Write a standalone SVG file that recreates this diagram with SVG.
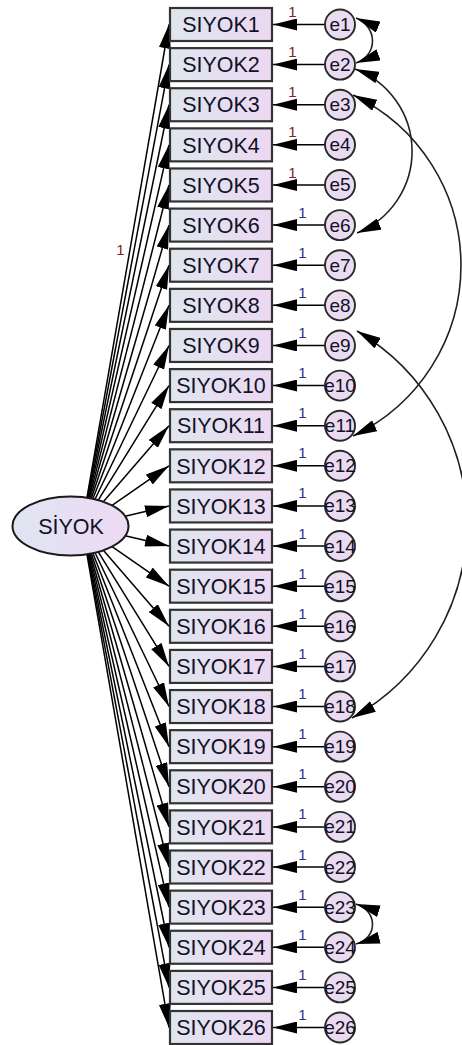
<svg xmlns="http://www.w3.org/2000/svg" width="462" height="1045" viewBox="0 0 462 1045">
<style>
.box rect{fill:url(#gb);stroke:#333;stroke-width:2.2}
.box text{font-family:"Liberation Sans",Arial,sans-serif;font-size:21.5px;fill:#111128;text-anchor:middle}
.err circle{fill:#ebdbf1;stroke:#2a2a2a;stroke-width:1.9}
.err text{font-family:"Liberation Sans",Arial,sans-serif;font-size:19px;fill:#111128;text-anchor:middle}
.ld{stroke:#000;stroke-width:1.5;fill:none;marker-end:url(#ah)}
.ea{stroke:#000;stroke-width:1.5;fill:none;marker-end:url(#ah)}
.cov{stroke:#222;stroke-width:1.6;fill:none;marker-start:url(#ah);marker-end:url(#ah)}
.one{font-family:"Liberation Sans",Arial,sans-serif;font-size:15px;text-anchor:middle}
.r{fill:#7a2424}.b{fill:#26308a}
</style>
<defs>
<linearGradient id="gb" x1="0" y1="0" x2="1" y2="0"><stop offset="0" stop-color="#dfe6ee"/><stop offset="1" stop-color="#ecd8f2"/></linearGradient>
<linearGradient id="ge" x1="0" y1="0" x2="1" y2="0"><stop offset="0" stop-color="#dfe5f3"/><stop offset="1" stop-color="#eddaf3"/></linearGradient>
<marker id="ah" markerUnits="userSpaceOnUse" markerWidth="24" markerHeight="12" refX="24" refY="6" orient="auto-start-reverse" viewBox="0 0 24 12"><path d="M0,0 L24,6 L0,12 Z" fill="#000"/></marker>
</defs>
<g id="connectors">
<path class="ld" d="M86.96,497.71 L169,24.5"/>
<path class="ld" d="M87.38,497.78 L169,64.62"/>
<path class="ld" d="M87.88,497.86 L169,104.74"/>
<path class="ld" d="M88.48,497.95 L169,144.86"/>
<path class="ld" d="M89.21,498.08 L169,184.98"/>
<path class="ld" d="M90.12,498.24 L169,225.1"/>
<path class="ld" d="M91.29,498.46 L169,265.22"/>
<path class="ld" d="M92.86,498.78 L169,305.34"/>
<path class="ld" d="M95.03,499.27 L169,345.46"/>
<path class="ld" d="M98.24,500.09 L169,385.58"/>
<path class="ld" d="M103.34,501.68 L169,425.7"/>
<path class="ld" d="M112.08,505.43 L169,465.82"/>
<path class="ld" d="M125.18,516.16 L169,505.94"/>
<path class="ld" d="M125.18,535.84 L169,546.06"/>
<path class="ld" d="M112.08,546.57 L169,586.18"/>
<path class="ld" d="M103.34,550.32 L169,626.3"/>
<path class="ld" d="M98.24,551.91 L169,666.42"/>
<path class="ld" d="M95.03,552.73 L169,706.54"/>
<path class="ld" d="M92.86,553.22 L169,746.66"/>
<path class="ld" d="M91.29,553.54 L169,786.78"/>
<path class="ld" d="M90.12,553.76 L169,826.9"/>
<path class="ld" d="M89.21,553.92 L169,867.02"/>
<path class="ld" d="M88.48,554.05 L169,907.14"/>
<path class="ld" d="M87.88,554.14 L169,947.26"/>
<path class="ld" d="M87.38,554.22 L169,987.38"/>
<path class="ld" d="M86.96,554.29 L169,1027.5"/>
<path class="ea" d="M325,24.5 H273"/>
<path class="ea" d="M325,64.62 H273"/>
<path class="ea" d="M325,104.74 H273"/>
<path class="ea" d="M325,144.86 H273"/>
<path class="ea" d="M325,184.98 H273"/>
<path class="ea" d="M325,225.1 H273"/>
<path class="ea" d="M325,265.22 H273"/>
<path class="ea" d="M325,305.34 H273"/>
<path class="ea" d="M325,345.46 H273"/>
<path class="ea" d="M325,385.58 H273"/>
<path class="ea" d="M325,425.7 H273"/>
<path class="ea" d="M325,465.82 H273"/>
<path class="ea" d="M325,505.94 H273"/>
<path class="ea" d="M325,546.06 H273"/>
<path class="ea" d="M325,586.18 H273"/>
<path class="ea" d="M325,626.3 H273"/>
<path class="ea" d="M325,666.42 H273"/>
<path class="ea" d="M325,706.54 H273"/>
<path class="ea" d="M325,746.66 H273"/>
<path class="ea" d="M325,786.78 H273"/>
<path class="ea" d="M325,826.9 H273"/>
<path class="ea" d="M325,867.02 H273"/>
<path class="ea" d="M325,907.14 H273"/>
<path class="ea" d="M325,947.26 H273"/>
<path class="ea" d="M325,987.38 H273"/>
<path class="ea" d="M325,1027.5 H273"/>
<path class="cov" d="M356,18 C378,27 378,55 356,63"/>
<path class="cov" d="M355,69 A88,88 0 0 1 357,233"/>
<path class="cov" d="M353,95 A188.6,188.6 0 0 1 353,436"/>
<path class="cov" d="M357,331 A222.8,222.8 0 0 1 352,718"/>
<path class="cov" d="M356,904 C378,911 378,938 356,944"/>
</g>
<g id="labels">
<text class="one r" x="120.5" y="255">1</text>
<text class="one r" x="292.5" y="17">1</text>
<text class="one r" x="292.5" y="57.1">1</text>
<text class="one r" x="292.5" y="97.2">1</text>
<text class="one r" x="292.5" y="137.4">1</text>
<text class="one r" x="292.5" y="177.5">1</text>
<text class="one b" x="302.5" y="217.6">1</text>
<text class="one b" x="302.5" y="257.7">1</text>
<text class="one b" x="302.5" y="297.8">1</text>
<text class="one b" x="302.5" y="338">1</text>
<text class="one b" x="302.5" y="378.1">1</text>
<text class="one b" x="302.5" y="418.2">1</text>
<text class="one b" x="302.5" y="458.3">1</text>
<text class="one b" x="302.5" y="498.4">1</text>
<text class="one b" x="302.5" y="538.6">1</text>
<text class="one b" x="302.5" y="578.7">1</text>
<text class="one b" x="302.5" y="618.8">1</text>
<text class="one b" x="302.5" y="658.9">1</text>
<text class="one b" x="302.5" y="699">1</text>
<text class="one b" x="302.5" y="739.2">1</text>
<text class="one b" x="302.5" y="779.3">1</text>
<text class="one b" x="302.5" y="819.4">1</text>
<text class="one b" x="302.5" y="859.5">1</text>
<text class="one b" x="302.5" y="899.6">1</text>
<text class="one b" x="302.5" y="939.8">1</text>
<text class="one b" x="302.5" y="979.9">1</text>
<text class="one b" x="302.5" y="1020">1</text>
</g>
<g id="SIYOK">
<ellipse cx="70.5" cy="526" rx="58" ry="29.5" fill="url(#ge)" stroke="#1a1a1a" stroke-width="2"/>
<text x="71" y="533.7" font-family="'Liberation Sans',Arial,sans-serif" font-size="21.5" fill="#111128" text-anchor="middle">SİYOK</text>
</g>
<g id="SIYOK1" class="box" transform="translate(0,24.5)"><rect x="170" y="-16.5" width="102" height="33"/><text x="221" y="7.7">SIYOK1</text></g>
<g id="SIYOK2" class="box" transform="translate(0,64.62)"><rect x="170" y="-16.5" width="102" height="33"/><text x="221" y="7.7">SIYOK2</text></g>
<g id="SIYOK3" class="box" transform="translate(0,104.74)"><rect x="170" y="-16.5" width="102" height="33"/><text x="221" y="7.7">SIYOK3</text></g>
<g id="SIYOK4" class="box" transform="translate(0,144.86)"><rect x="170" y="-16.5" width="102" height="33"/><text x="221" y="7.7">SIYOK4</text></g>
<g id="SIYOK5" class="box" transform="translate(0,184.98)"><rect x="170" y="-16.5" width="102" height="33"/><text x="221" y="7.7">SIYOK5</text></g>
<g id="SIYOK6" class="box" transform="translate(0,225.1)"><rect x="170" y="-16.5" width="102" height="33"/><text x="221" y="7.7">SIYOK6</text></g>
<g id="SIYOK7" class="box" transform="translate(0,265.22)"><rect x="170" y="-16.5" width="102" height="33"/><text x="221" y="7.7">SIYOK7</text></g>
<g id="SIYOK8" class="box" transform="translate(0,305.34)"><rect x="170" y="-16.5" width="102" height="33"/><text x="221" y="7.7">SIYOK8</text></g>
<g id="SIYOK9" class="box" transform="translate(0,345.46)"><rect x="170" y="-16.5" width="102" height="33"/><text x="221" y="7.7">SIYOK9</text></g>
<g id="SIYOK10" class="box" transform="translate(0,385.58)"><rect x="170" y="-16.5" width="102" height="33"/><text x="221" y="7.7">SIYOK10</text></g>
<g id="SIYOK11" class="box" transform="translate(0,425.7)"><rect x="170" y="-16.5" width="102" height="33"/><text x="221" y="7.7">SIYOK11</text></g>
<g id="SIYOK12" class="box" transform="translate(0,465.82)"><rect x="170" y="-16.5" width="102" height="33"/><text x="221" y="7.7">SIYOK12</text></g>
<g id="SIYOK13" class="box" transform="translate(0,505.94)"><rect x="170" y="-16.5" width="102" height="33"/><text x="221" y="7.7">SIYOK13</text></g>
<g id="SIYOK14" class="box" transform="translate(0,546.06)"><rect x="170" y="-16.5" width="102" height="33"/><text x="221" y="7.7">SIYOK14</text></g>
<g id="SIYOK15" class="box" transform="translate(0,586.18)"><rect x="170" y="-16.5" width="102" height="33"/><text x="221" y="7.7">SIYOK15</text></g>
<g id="SIYOK16" class="box" transform="translate(0,626.3)"><rect x="170" y="-16.5" width="102" height="33"/><text x="221" y="7.7">SIYOK16</text></g>
<g id="SIYOK17" class="box" transform="translate(0,666.42)"><rect x="170" y="-16.5" width="102" height="33"/><text x="221" y="7.7">SIYOK17</text></g>
<g id="SIYOK18" class="box" transform="translate(0,706.54)"><rect x="170" y="-16.5" width="102" height="33"/><text x="221" y="7.7">SIYOK18</text></g>
<g id="SIYOK19" class="box" transform="translate(0,746.66)"><rect x="170" y="-16.5" width="102" height="33"/><text x="221" y="7.7">SIYOK19</text></g>
<g id="SIYOK20" class="box" transform="translate(0,786.78)"><rect x="170" y="-16.5" width="102" height="33"/><text x="221" y="7.7">SIYOK20</text></g>
<g id="SIYOK21" class="box" transform="translate(0,826.9)"><rect x="170" y="-16.5" width="102" height="33"/><text x="221" y="7.7">SIYOK21</text></g>
<g id="SIYOK22" class="box" transform="translate(0,867.02)"><rect x="170" y="-16.5" width="102" height="33"/><text x="221" y="7.7">SIYOK22</text></g>
<g id="SIYOK23" class="box" transform="translate(0,907.14)"><rect x="170" y="-16.5" width="102" height="33"/><text x="221" y="7.7">SIYOK23</text></g>
<g id="SIYOK24" class="box" transform="translate(0,947.26)"><rect x="170" y="-16.5" width="102" height="33"/><text x="221" y="7.7">SIYOK24</text></g>
<g id="SIYOK25" class="box" transform="translate(0,987.38)"><rect x="170" y="-16.5" width="102" height="33"/><text x="221" y="7.7">SIYOK25</text></g>
<g id="SIYOK26" class="box" transform="translate(0,1027.5)"><rect x="170" y="-16.5" width="102" height="33"/><text x="221" y="7.7">SIYOK26</text></g>
<g id="e1" class="err" transform="translate(340,24.5)"><circle r="15"/><text y="6.5">e1</text></g>
<g id="e2" class="err" transform="translate(340,64.62)"><circle r="15"/><text y="6.5">e2</text></g>
<g id="e3" class="err" transform="translate(340,104.74)"><circle r="15"/><text y="6.5">e3</text></g>
<g id="e4" class="err" transform="translate(340,144.86)"><circle r="15"/><text y="6.5">e4</text></g>
<g id="e5" class="err" transform="translate(340,184.98)"><circle r="15"/><text y="6.5">e5</text></g>
<g id="e6" class="err" transform="translate(340,225.1)"><circle r="15"/><text y="6.5">e6</text></g>
<g id="e7" class="err" transform="translate(340,265.22)"><circle r="15"/><text y="6.5">e7</text></g>
<g id="e8" class="err" transform="translate(340,305.34)"><circle r="15"/><text y="6.5">e8</text></g>
<g id="e9" class="err" transform="translate(340,345.46)"><circle r="15"/><text y="6.5">e9</text></g>
<g id="e10" class="err" transform="translate(340,385.58)"><circle r="15"/><text y="6.5">e10</text></g>
<g id="e11" class="err" transform="translate(340,425.7)"><circle r="15"/><text y="6.5">e11</text></g>
<g id="e12" class="err" transform="translate(340,465.82)"><circle r="15"/><text y="6.5">e12</text></g>
<g id="e13" class="err" transform="translate(340,505.94)"><circle r="15"/><text y="6.5">e13</text></g>
<g id="e14" class="err" transform="translate(340,546.06)"><circle r="15"/><text y="6.5">e14</text></g>
<g id="e15" class="err" transform="translate(340,586.18)"><circle r="15"/><text y="6.5">e15</text></g>
<g id="e16" class="err" transform="translate(340,626.3)"><circle r="15"/><text y="6.5">e16</text></g>
<g id="e17" class="err" transform="translate(340,666.42)"><circle r="15"/><text y="6.5">e17</text></g>
<g id="e18" class="err" transform="translate(340,706.54)"><circle r="15"/><text y="6.5">e18</text></g>
<g id="e19" class="err" transform="translate(340,746.66)"><circle r="15"/><text y="6.5">e19</text></g>
<g id="e20" class="err" transform="translate(340,786.78)"><circle r="15"/><text y="6.5">e20</text></g>
<g id="e21" class="err" transform="translate(340,826.9)"><circle r="15"/><text y="6.5">e21</text></g>
<g id="e22" class="err" transform="translate(340,867.02)"><circle r="15"/><text y="6.5">e22</text></g>
<g id="e23" class="err" transform="translate(340,907.14)"><circle r="15"/><text y="6.5">e23</text></g>
<g id="e24" class="err" transform="translate(340,947.26)"><circle r="15"/><text y="6.5">e24</text></g>
<g id="e25" class="err" transform="translate(340,987.38)"><circle r="15"/><text y="6.5">e25</text></g>
<g id="e26" class="err" transform="translate(340,1027.5)"><circle r="15"/><text y="6.5">e26</text></g>
</svg>
